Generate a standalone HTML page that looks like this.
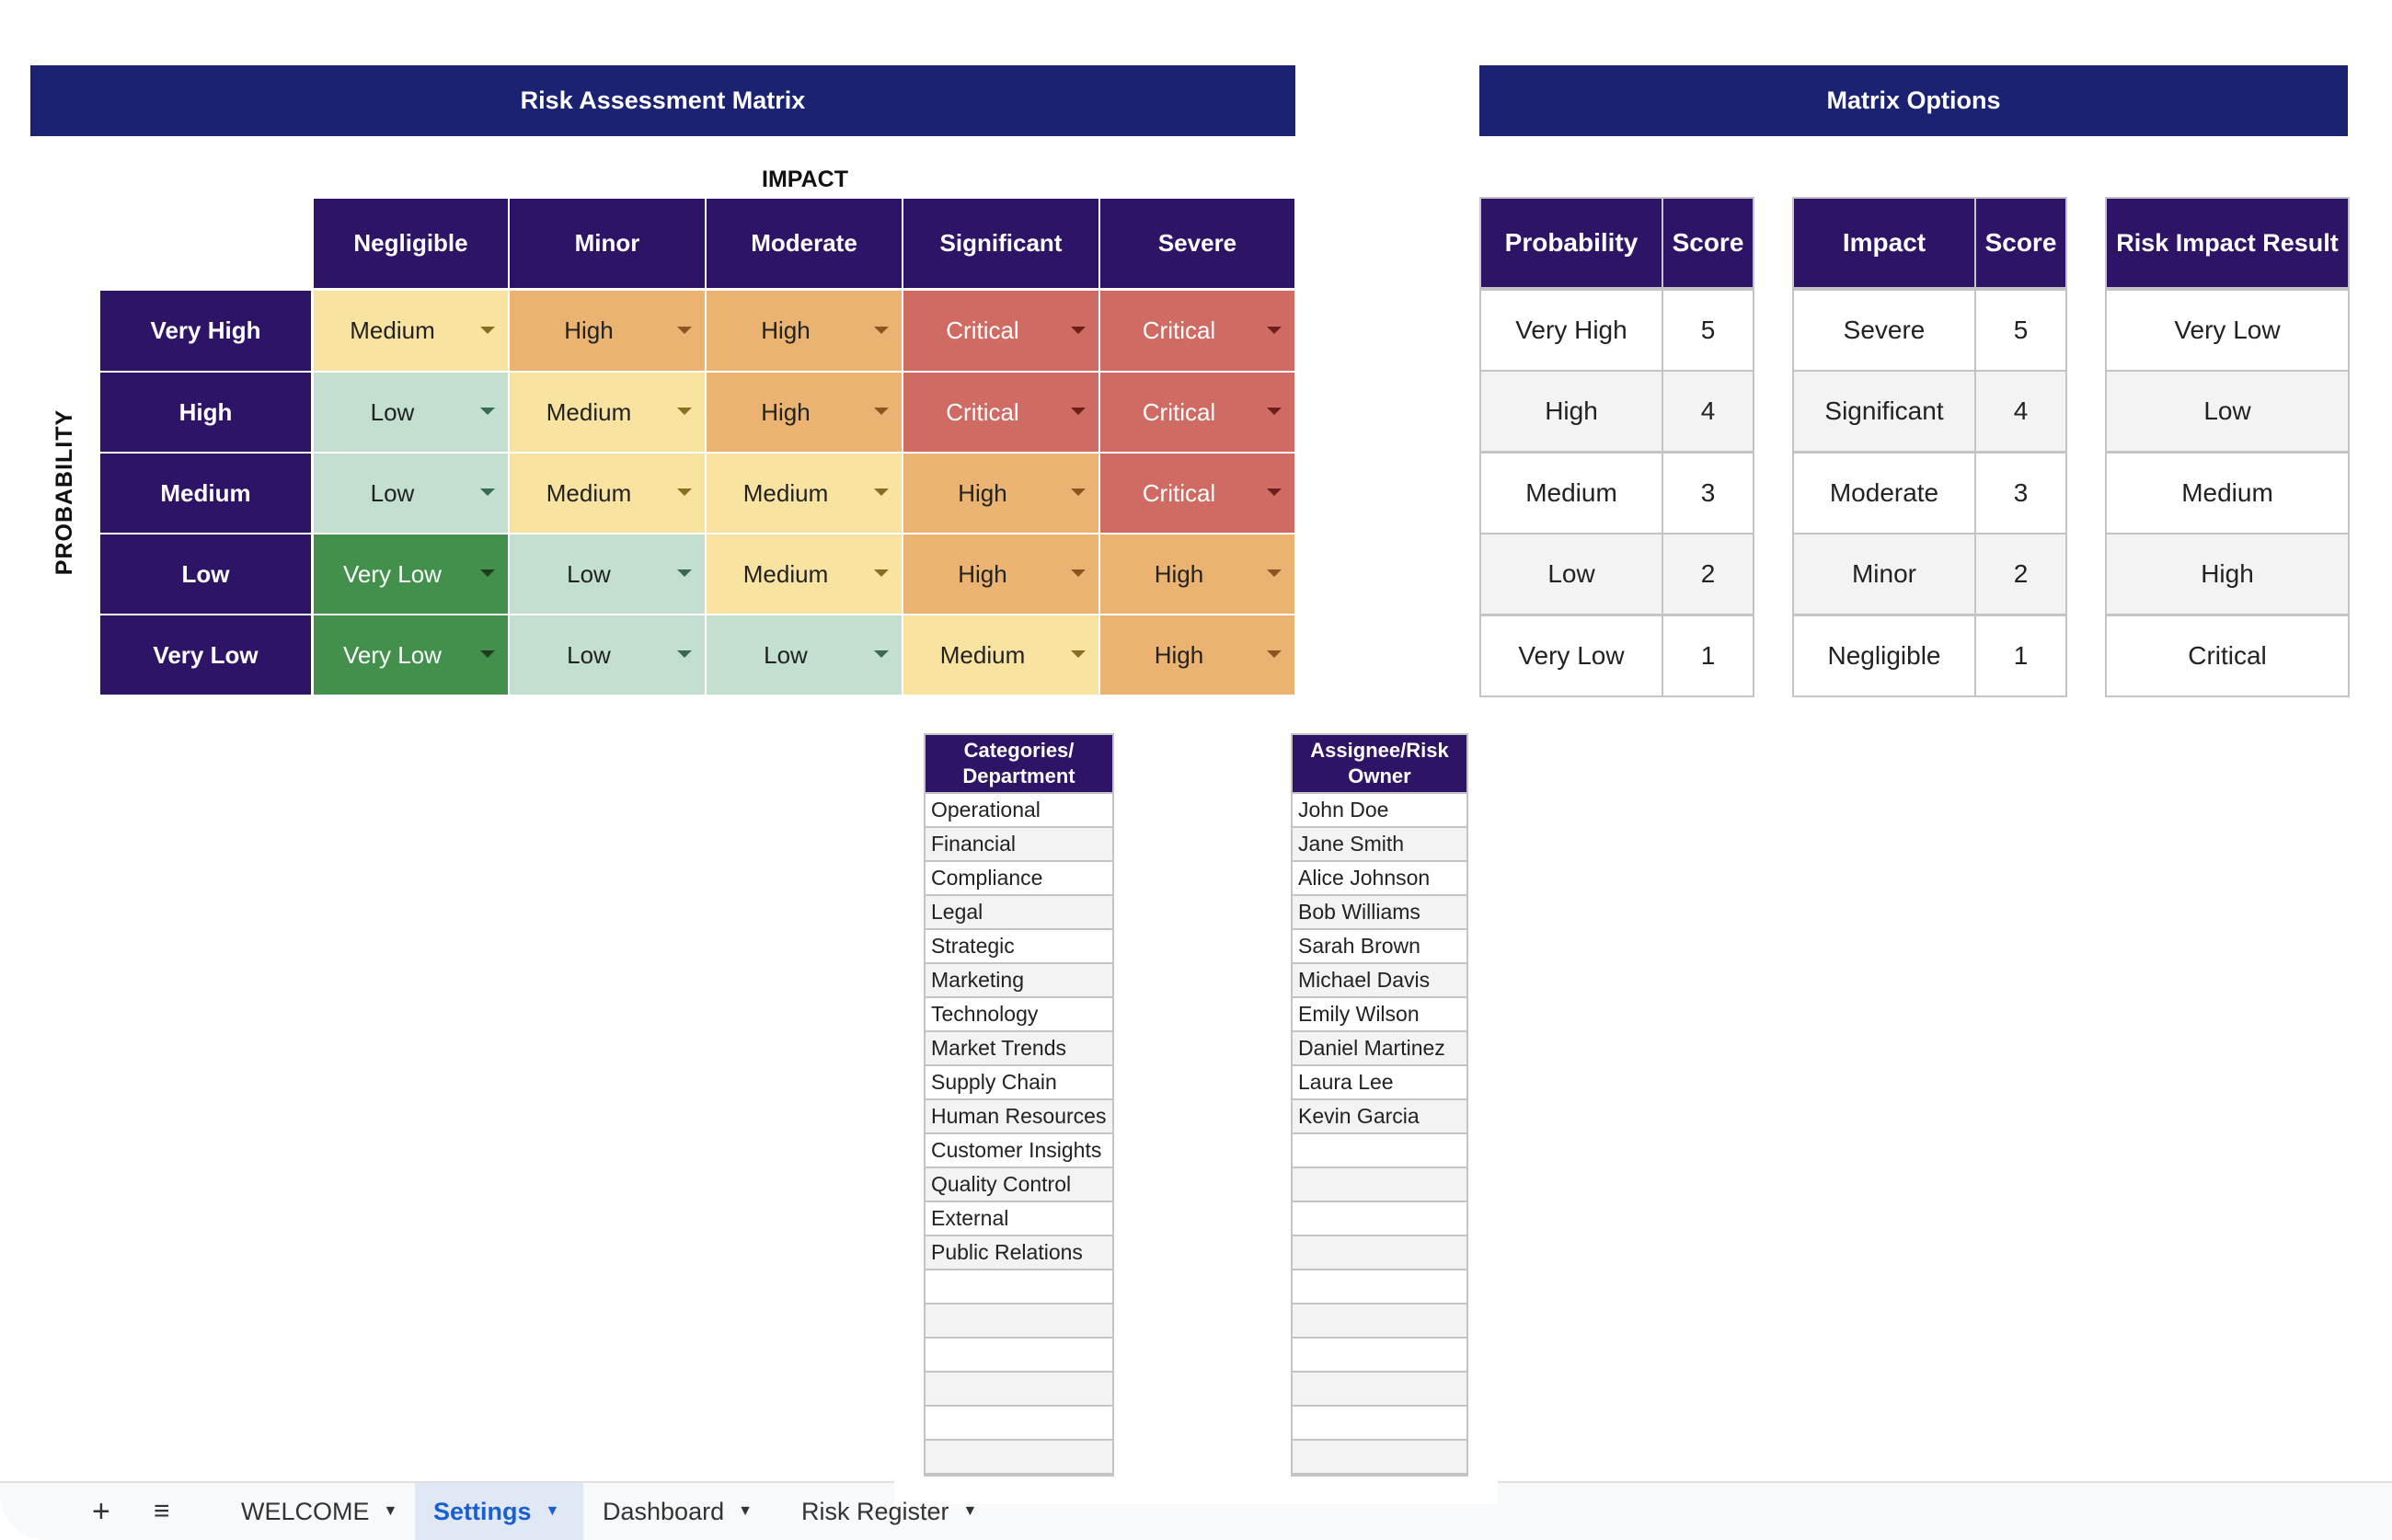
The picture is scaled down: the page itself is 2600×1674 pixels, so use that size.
<!DOCTYPE html>
<html><head><meta charset="utf-8"><style>
*{margin:0;padding:0;box-sizing:border-box}
body{width:2600px;height:1674px;background:#fff;position:relative;overflow:hidden;font-family:"Liberation Sans",sans-serif;}
.a{position:absolute;display:flex;align-items:center;justify-content:center;text-align:center}
.bar{background:#1b2272;color:#fff;font-size:27px;font-weight:bold}
.hd{background:#2d1466;color:#fff;font-weight:bold;font-size:26px}
.c{font-size:26px;color:#222}
.arr{position:absolute;width:0;height:0;border-left:8px solid transparent;border-right:8px solid transparent;border-top:8px solid}
.o{font-size:28px;color:#222;border:2px solid #c4c4c4}
.l{position:absolute;font-size:23px;color:#222;display:flex;align-items:center;padding-left:6px;border:2px solid #c4c4c4;border-top:none}
.tab{position:absolute;top:1612px;height:62px;display:flex;align-items:center;font-size:27px;color:#333}
</style></head><body>
<div class="a bar" style="left:33px;top:71px;width:1375px;height:77px">Risk Assessment Matrix</div>
<div class="a bar" style="left:1608px;top:71px;width:944px;height:77px">Matrix Options</div>
<div class="a" style="left:740px;top:178px;width:270px;height:34px;font-size:25px;font-weight:bold;color:#111">IMPACT</div>
<div class="a" style="left:-30px;top:515px;width:200px;height:40px;font-size:25px;font-weight:bold;color:#111;transform:rotate(-90deg);letter-spacing:1px">PROBABILITY</div>
<div id="m"></div>
<script>
var cx=[340,553,767,981,1195,1408],ry=[216,315,404,492,580,668,756];
var H=["Negligible","Minor","Moderate","Significant","Severe"],R=["Very High","High","Medium","Low","Very Low"];
var D=[["Medium","High","High","Critical","Critical"],["Low","Medium","High","Critical","Critical"],["Low","Medium","Medium","High","Critical"],["Very Low","Low","Medium","High","High"],["Very Low","Low","Low","Medium","High"]];
var C={"Very Low":["#43904c","#fff","#1e3d20"],"Low":["#c2dfd0","#222","#3a6a55"],"Medium":["#f8e4a0","#222","#8a6d1e"],"High":["#eab372","#222","#8a5520"],"Critical":["#d06b63","#fff","#6b1e1a"]};
var s="";
for(var i=0;i<5;i++){s+='<div class="a hd" style="left:'+(cx[i]+1)+'px;top:216px;width:'+(cx[i+1]-cx[i]-2)+'px;height:97px">'+H[i]+'</div>';}
for(var r=0;r<5;r++){var y=ry[r+1]+1,h=ry[r+2]-ry[r+1]-2;
s+='<div class="a hd" style="left:109px;top:'+y+'px;width:229px;height:'+h+'px">'+R[r]+'</div>';
for(var i=0;i<5;i++){var v=D[r][i],k=C[v],x=cx[i]+1,w=cx[i+1]-cx[i]-2;
s+='<div class="a c" style="left:'+x+'px;top:'+y+'px;width:'+w+'px;height:'+h+'px;background:'+k[0]+';color:'+k[1]+';padding-right:40px">'+v+'</div>';
s+='<div class="arr" style="left:'+(x+w-30)+'px;top:'+(y+h/2-5)+'px;border-top-color:'+k[2]+'"></div>';}}
function tbl(x,ws,hs,rows){var cx=x;for(var j=0;j<ws.length;j++){
s+='<div class="a hd" style="left:'+cx+'px;top:214px;width:'+ws[j]+'px;height:100px;border:2px solid #c4c4c4;font-size:'+(hs[j].length>12?27:28)+'px">'+hs[j]+'</div>';
for(var r=0;r<5;r++){s+='<div class="a o" style="left:'+cx+'px;top:'+(314+r*88.4)+'px;width:'+ws[j]+'px;height:90px;background:'+(r%2?'#f3f3f3':'#fff')+'">'+rows[r][j]+'</div>';}
cx+=ws[j]-2;}}
tbl(1608,[200,101],["Probability","Score"],[["Very High",5],["High",4],["Medium",3],["Low",2],["Very Low",1]]);
tbl(1948,[200,101],["Impact","Score"],[["Severe",5],["Significant",4],["Moderate",3],["Minor",2],["Negligible",1]]);
tbl(2288,[266],["Risk Impact Result"],[["Very Low"],["Low"],["Medium"],["High"],["Critical"]]);
function lst(x,w,t,items){s+='<div class="a hd" style="left:'+x+'px;top:797px;width:'+w+'px;height:66px;font-size:22px;line-height:28px;border:2px solid #c4c4c4">'+t+'</div>';
for(var r=0;r<20;r++){s+='<div class="l" style="left:'+x+'px;top:'+(863+r*37)+'px;width:'+w+'px;height:37px;background:'+(r%2?'#f3f3f3':'#fff')+'">'+(items[r]||'')+'</div>';}}
lst(1004,207,"Categories/<br>Department",["Operational","Financial","Compliance","Legal","Strategic","Marketing","Technology","Market Trends","Supply Chain","Human Resources","Customer Insights","Quality Control","External","Public Relations"]);
lst(1403,193,"Assignee/Risk<br>Owner",["John Doe","Jane Smith","Alice Johnson","Bob Williams","Sarah Brown","Michael Davis","Emily Wilson","Daniel Martinez","Laura Lee","Kevin Garcia"]);
document.getElementById("m").innerHTML=s;
</script>
<div style="position:absolute;left:0;top:1610px;width:2600px;height:64px;background:#f8f9fa;border-top:2px solid #e0e0e0;border-bottom-left-radius:50px"></div>
<div style="position:absolute;left:972px;top:1605px;width:656px;height:30px;background:#fff"></div>
<div style="position:absolute;left:1004px;top:1603px;width:207px;height:2px;background:#c4c4c4"></div>
<div style="position:absolute;left:1403px;top:1603px;width:193px;height:2px;background:#c4c4c4"></div>
<div class="tab" style="left:100px;font-size:34px">+</div>
<div class="tab" style="left:167px;font-size:30px">≡</div>
<div class="tab" style="left:262px">WELCOME&nbsp;&nbsp;<span style="font-size:16px">▼</span></div>
<div class="tab" style="left:451px;width:183px;background:#e1e8f5;color:#1a5fd0;font-weight:bold;padding-left:20px">Settings&nbsp;&nbsp;<span style="font-size:16px">▼</span></div>
<div class="tab" style="left:655px">Dashboard&nbsp;&nbsp;<span style="font-size:16px">▼</span></div>
<div class="tab" style="left:871px">Risk Register&nbsp;&nbsp;<span style="font-size:16px">▼</span></div>
</body></html>
